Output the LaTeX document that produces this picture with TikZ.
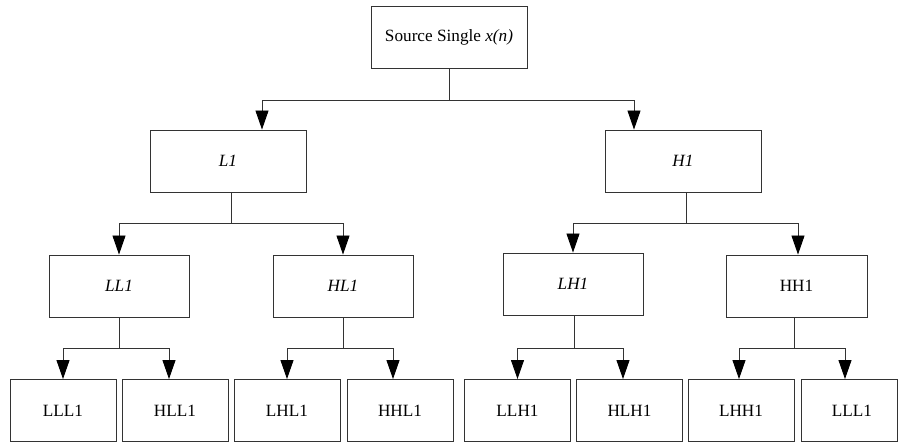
\documentclass[tikz,border=0pt]{standalone}
\usepackage{fontspec}
\setmainfont{Liberation Serif}
\usetikzlibrary{arrows.meta}
\begin{document}
\begin{tikzpicture}[x=1pt,y=-1pt,
  box/.style={draw=black!80,line width=0.9pt,rectangle,inner sep=0pt,minimum height=62pt,font=\fontsize{17.2}{19}\selectfont,text=black},
  wide/.style={box,minimum width=156pt},
  mid/.style={box,minimum width=140pt},
  small/.style={box,minimum width=106pt},
  link/.style={draw=black!80,line width=0.9pt},
  arr/.style={link,-{Triangle[length=19pt,width=13pt,color=black]}}]
\useasboundingbox (0,0) rectangle (898,443);
% nodes
\node[wide] (src) at (449,37) {Source Single \textit{x(n)}};
\node[wide] (L1) at (228,161) {\textit{L1}};
\node[wide] (H1) at (683,161) {\textit{H1}};
\node[mid] (LL1) at (119,286) {\textit{LL1}};
\node[mid] (HL1) at (343,286) {\textit{HL1}};
\node[mid] (LH1) at (573,284) {\textit{LH1}};
\node[mid,minimum width=141pt] (HH1) at (796.5,286) {HH1};
\node[small] (LLL1) at (63,410.5) {LLL1};
\node[small] (HLL1) at (175,410.5) {HLL1};
\node[small] (LHL1) at (287,410.5) {LHL1};
\node[small] (HHL1) at (400,410.5) {HHL1};
\node[small] (LLH1) at (517.5,410.5) {LLH1};
\node[small] (HLH1) at (629.5,410.5) {HLH1};
\node[small] (LHH1) at (741,410.5) {LHH1};
\node[box,minimum width=96pt] (LLLb) at (849,410.5) {\hspace*{6pt}LLL1};
% level 1
\draw[link] (src.south) -- ++(0,32) coordinate (j0);
\draw[arr] (j0) -| ([xshift=34pt]L1.north);
\draw[arr] (j0) -| ([xshift=-49pt]H1.north);
% level 2
\draw[link] ([xshift=3pt]L1.south) -- ++(0,31.5) coordinate (jL);
\draw[arr] (jL) -| (LL1.north);
\draw[arr] (jL) -| (HL1.north);
\draw[link] ([xshift=3pt]H1.south) -- ++(0,31.5) coordinate (jH);
\draw[arr] (jH) -| (LH1.north);
\draw[arr] (jH) -| ([xshift=1.5pt]HH1.north);
% level 3
\draw[link] (LL1.south) -- ++(0,31) coordinate (jLL);
\draw[arr] (jLL) -| (LLL1.north);
\draw[arr] (jLL) -| ([xshift=-6pt]HLL1.north);
\draw[link] (HL1.south) -- ++(0,31) coordinate (jHL);
\draw[arr] (jHL) -| (LHL1.north);
\draw[arr] (jHL) -| ([xshift=-7pt]HHL1.north);
\draw[link] ([xshift=1pt]LH1.south) -- ++(0,33) coordinate (jLH);
\draw[arr] (jLH) -| (LLH1.north);
\draw[arr] (jLH) -| ([xshift=-6.5pt]HLH1.north);
\draw[link] ([xshift=-2.5pt]HH1.south) -- ++(0,31) coordinate (jHH);
\draw[arr] (jHH) -| ([xshift=-2pt]LHH1.north);
\draw[arr] (jHH) -| ([xshift=-4pt]LLLb.north);
\end{tikzpicture}
\end{document}
